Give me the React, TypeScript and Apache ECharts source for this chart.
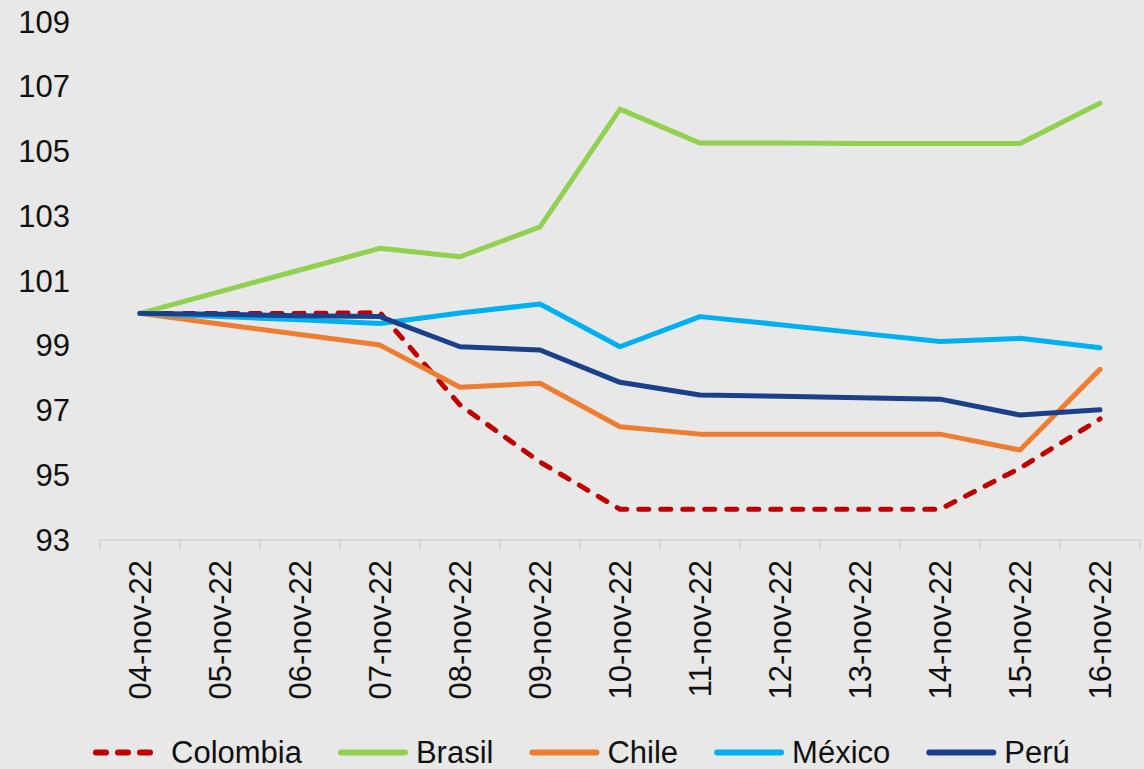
import React, { useEffect, useRef } from "react";
import * as echarts from "echarts";

const categories = ["04-nov-22","05-nov-22","06-nov-22","07-nov-22","08-nov-22","09-nov-22","10-nov-22","11-nov-22","12-nov-22","13-nov-22","14-nov-22","15-nov-22","16-nov-22"];
const colombia = [100, 100, 100, 100.02, 97.17, 95.41, 93.95, 93.95, 93.95, 93.95, 93.95, 95.22, 96.74];
const brasil = [100, 100.67, 101.34, 102.01, 101.75, 102.67, 106.31, 105.26, 105.26, 105.25, 105.25, 105.25, 106.49];
const chile = [100, 99.67, 99.35, 99.02, 97.72, 97.84, 96.5, 96.27, 96.27, 96.27, 96.27, 95.78, 98.27];
const mexico = [100, 99.9, 99.8, 99.69, 100.01, 100.29, 98.97, 99.9, 99.65, 99.39, 99.13, 99.23, 98.94];
const peru = [100, 99.97, 99.93, 99.9, 98.97, 98.87, 97.87, 97.48, 97.44, 97.39, 97.35, 96.86, 97.02];

const FONT = "'Liberation Sans', Arial, sans-serif";

export default function App() {
  const ref = useRef<HTMLDivElement>(null);
  useEffect(() => {
    if (!ref.current) return;
    const chart = echarts.init(ref.current, undefined, { renderer: "svg" });
    const mk = (name: string, data: number[], color: string, dashed = false) => ({
      name,
      type: "line",
      data,
      symbol: "none",
      lineStyle: { color, width: 5, type: dashed ? [10, 12] : "solid", cap: "round", join: "round" },
      itemStyle: { color },
      z: name === "Perú" ? 5 : 3,
    });
    chart.setOption({
      animation: false,
      backgroundColor: "#e8e8e8",
      textStyle: { fontFamily: FONT },
      grid: { left: 100, right: 4, top: 22, bottom: 229, containLabel: false },
      legend: {
        bottom: -4,
        left: 88,
        itemWidth: 64,
        itemHeight: 14,
        itemGap: 36,
        itemStyle: { opacity: 0 },
        lineStyle: { width: 6 },
        textStyle: { fontSize: 31, color: "#111", fontFamily: FONT, padding: [0, 0, 0, 6] },
        data: ["Colombia", "Brasil", "Chile", "México", "Perú"],
      },
      xAxis: {
        type: "category",
        data: categories,
        boundaryGap: true,
        axisLine: { show: true, lineStyle: { color: "#d0d0d0", width: 1.5 } },
        axisTick: { show: true, length: 10, lineStyle: { color: "#d0d0d0", width: 1.5 } },
        axisLabel: { rotate: 90, fontSize: 31, color: "#111", margin: 20, fontFamily: FONT },
      },
      yAxis: {
        type: "value",
        min: 93,
        max: 109,
        interval: 2,
        axisLine: { show: false },
        axisTick: { show: false },
        splitLine: { show: false },
        axisLabel: { fontSize: 31, color: "#111", margin: 30, fontFamily: FONT },
      },
      series: [
        mk("Colombia", colombia, "#c00000", true),
        mk("Brasil", brasil, "#92d050"),
        mk("Chile", chile, "#ed7d31"),
        mk("México", mexico, "#00b0f0"),
        mk("Perú", peru, "#1a408c"),
      ],
    });
    return () => chart.dispose();
  }, []);
  return (
    <div style={{ position: "fixed", left: 0, top: 0, width: 1144, height: 769, background: "#e8e8e8" }}>
      <div ref={ref} style={{ width: 1144, height: 769 }} />
    </div>
  );
}
